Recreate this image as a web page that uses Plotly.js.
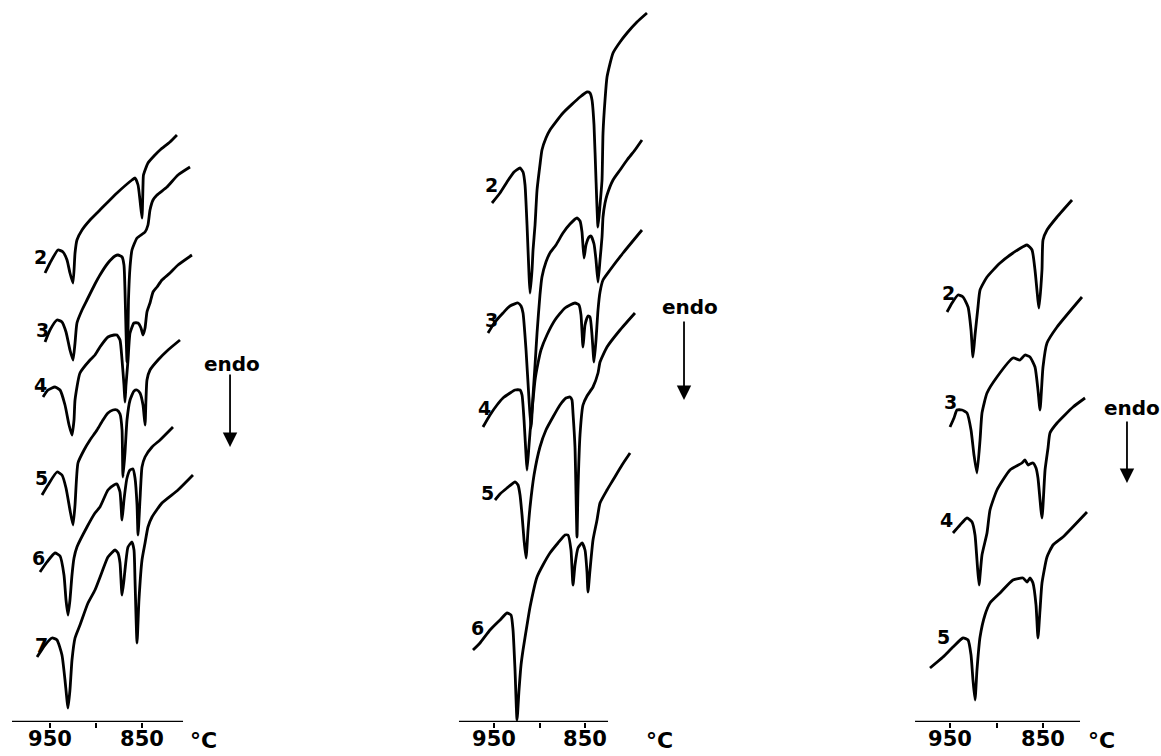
<!DOCTYPE html>
<html>
<head>
<meta charset="utf-8">
<script src="https://cdn.plot.ly/plotly-3.0.1.min.js"></script>
<style>
  html, body { margin: 0; padding: 0; background: #ffffff; }
  #chart { width: 1161px; height: 756px; }
</style>
</head>
<body>
<div id="chart"></div>
<script>
// ---------------- DATA (temperature in °C, DTA signal in arbitrary units) ----------------
// Panel A (left)
const A2_temp = [955.4,950,941.3,935.9,931.5,928.3,925.0,922.8,920.7,915.2,906.5,895.7,877.2,860.9,857.6,854.3,852.2,850.0,848.9,848.4,843.5,835.9,830.4,819.6,812.0];
const A2_sig  = [449,459,472,470,462,449,439,469,482,492,502,512,529,542,544,537,522,504,537,547,559,567,572,580,587];
const A3_temp = [955.4,950,942.4,937.0,932.6,928.3,925.0,922.8,920.7,915.2,909.8,901.1,895.7,887.0,879.3,876.1,871.7,869.6,868.5,867.4,866.3,865.2,864.7,863.0,860.9,855.4,846.7,843.5,841.3,838.0,833.7,822.8,810.9,797.8];
const A3_sig  = [380,392,402,400,390,372,362,379,399,412,422,438,447,459,466,467,465,457,432,392,360,392,422,455,472,484,490,497,512,522,527,535,547,555];
const A4_temp = [957.6,952.2,944.6,939.1,933.7,929.3,926.1,923.9,922.8,917.4,906.5,901.1,895.7,887.0,880.4,877.2,873.9,871.7,869.6,868.5,867.4,865.2,863.0,858.7,854.3,851.1,848.9,846.7,844.6,841.3,838.0,833.7,828.3,819.6,810.9,795.7];
const A4_sig  = [325,332,335,332,317,297,287,302,322,349,362,367,375,385,387,387,382,362,337,320,337,362,389,399,399,394,387,394,410,419,430,435,442,449,457,467];
const A5_temp = [958.7,952.2,942.4,937.0,932.6,928.3,925.0,922.8,919.6,913.0,906.5,898.9,892.4,887.0,881.5,877.2,873.9,871.7,870.7,868.5,866.3,863.0,858.7,855.4,852.2,848.9,846.7,845.7,844.6,841.3,832.6,821.7,808.7];
const A5_sig  = [227,237,250,247,234,212,197,217,259,272,282,292,302,309,312,312,308,292,245,269,302,322,331,332,329,317,297,322,342,352,362,372,382];
const A6_temp = [960.9,953.3,944.6,939.1,934.8,932.6,930.4,928.3,926.1,923.9,920.7,909.8,901.1,895.7,887.0,880.4,877.2,873.9,871.7,869.6,866.3,863.0,859.8,857.6,855.4,854.3,852.2,850.0,846.7,839.1,830.4,816.3];
const A6_sig  = [150,160,169,166,147,122,107,122,147,164,175,195,209,215,232,237,238,230,202,222,244,252,253,244,217,187,222,255,265,275,282,295];
const A7_temp = [964.1,955.4,947.8,942.4,937.0,933.7,930.4,928.3,926.1,922.8,917.4,908.7,901.1,893.5,887.0,879.3,876.1,873.9,871.7,869.6,868.5,865.2,860.9,858.7,857.6,855.4,853.3,850.0,846.7,843.5,839.1,828.3,810.9,794.6];
const A7_sig  = [65,77,84,82,67,42,14,32,62,84,97,119,132,150,165,172,169,159,127,142,152,175,180,172,142,79,122,162,179,195,205,219,232,247];

// Panel B (middle)
const B2_temp = [952.2,943.4,935.7,928.0,921.4,918.1,915.9,913.7,911.5,910.4,908.2,907.1,904.9,902.7,899.5,897.3,892.9,888.5,874.2,855.5,847.8,844.5,842.3,840.1,837.9,835.7,833.5,831.3,830.2,828.0,825.8,819.2,811.5,803.8,792.9,781.9];
const B2_sig  = [519,529,540,550,554,550,537,497,447,429,452,472,497,532,557,572,584,592,609,625,630,629,622,597,542,495,517,542,589,622,645,669,680,689,700,709];
const B3_temp = [956.6,948.9,940.1,932.4,923.6,920.3,918.1,914.8,911.5,909.3,907.1,904.9,902.7,899.5,897.3,892.9,888.5,881.9,874.2,866.5,858.8,855.5,853.3,851.1,848.9,845.6,843.4,840.1,837.9,835.7,833.5,831.3,830.2,828.0,825.8,819.2,811.5,803.8,795.1,787.4];
const B3_sig  = [389,400,409,416,419,416,409,372,322,294,327,357,389,427,445,460,469,477,489,498,504,501,490,464,477,485,486,478,462,440,462,485,505,519,527,542,552,562,572,582];
const B4_temp = [962.1,954.4,946.7,940.1,932.4,926.9,921.4,919.2,917.0,914.8,913.7,911.5,909.3,907.1,904.9,901.6,898.4,891.8,883.0,872.0,861.0,856.6,854.4,852.2,850.0,846.7,844.5,842.3,840.1,837.9,835.7,833.5,830.2,822.5,808.2,787.4];
const B4_sig  = [295,307,317,324,329,332,332,327,302,267,252,277,302,322,342,359,372,387,402,414,419,417,407,375,397,406,405,387,360,382,412,430,442,452,469,492];
const B5_temp = [948.9,943.4,935.7,926.9,923.6,921.4,919.2,917.0,914.8,912.6,910.4,906.0,899.5,892.9,885.2,877.5,870.9,866.5,864.3,863.2,861.0,858.8,857.7,855.5,852.2,847.8,841.2,835.7,833.5,825.8,811.5,795.1];
const B5_sig  = [222,228,234,240,237,227,207,182,164,192,215,247,275,292,305,317,324,325,322,309,275,185,232,287,317,326,335,349,360,375,392,409];
const B6_temp = [973.1,965.4,954.4,943.4,935.7,931.3,929.1,926.9,924.7,922.5,920.3,918.1,913.7,910.4,902.7,896.2,888.5,879.7,872.0,868.7,865.4,863.2,861.0,857.7,853.3,850.0,847.8,846.7,844.5,841.2,836.8,833.5,825.8,819.2,809.3,800.5];
const B6_sig  = [72,79,92,102,109,107,92,52,2,32,57,72,97,115,145,157,169,179,187,187,172,137,157,174,179,172,150,130,152,182,202,219,232,242,257,269];

// Panel C (right)
const C2_temp = [953.2,947.8,941.4,936.0,930.6,927.4,925.3,923.1,919.9,917.7,910.2,896.2,882.3,867.2,861.8,858.6,854.3,851.1,850.0,845.7,834.9,818.8];
const C2_sig  = [410,419,427,425,415,392,365,387,415,432,445,459,469,477,472,452,414,452,482,492,505,522];
const C3_temp = [950,945.7,942.5,937.1,931.7,927.4,924.2,921.0,917.7,915.6,910.2,899.5,882.3,874.7,869.4,864.0,858.6,855.4,853.2,850.0,845.7,834.9,808.1];
const C3_sig  = [295,304,312,312,309,292,267,249,282,309,329,345,364,362,367,365,355,332,312,355,379,395,425];
const C4_temp = [946.8,939.2,931.7,926.3,923.1,921.0,918.8,915.6,910.2,907.0,899.5,885.5,872.6,869.4,866.1,864.0,860.8,857.5,855.4,851.1,847.8,844.6,842.5,834.9,817.7,804.8];
const C4_sig  = [189,197,204,200,187,162,137,167,189,212,232,252,259,262,257,258,259,254,244,204,252,274,289,299,315,324];
const C5_temp = [971.5,957.5,946.8,936.0,930.6,927.4,925.3,923.1,921.0,917.7,912.4,907.0,896.2,882.3,871.5,867.2,864.0,860.8,857.5,855.4,853.2,851.1,845.7,839.2,828.5,802.7];
const C5_sig  = [54,65,75,84,82,67,42,22,52,85,107,119,129,142,144,140,144,139,117,84,112,139,165,177,185,210];

// Axis tick labels
const tickValues = [950, 900, 850];
const tickLabels = ['950', '', '850'];
const unitLabel = '°C';
const endoLabel = 'endo';

// ---------------- LAYOUT CONFIG ----------------
const W = 1161, H = 756;
const FONT = 'DejaVu Sans, sans-serif';
const AXIS_PX = 722;               // pixel row of the temperature axes
// panel geometry: plot-area pixel extent, pixel of 950 °C, pixels per °C, drawn axis-line extent (°C)
const panels = [
  { x: 'x',  px0: 0,   px1: 240,  px950: 50,  k: 0.92, lineFrom: 991.3, lineTo: 805.4, unitT: 783.7,
    endo: { textT: 752.2, textS: 358, arrowT: 754.3, tailS: 349, headS: 275 } },
  { x: 'x2', px0: 440, px1: 720,  px950: 494, k: 0.91, lineFrom: 988.5, lineTo: 824.7, unitT: 767.6,
    endo: { textT: 734.6, textS: 415, arrowT: 741.2, tailS: 402, headS: 322 } },
  { x: 'x3', px0: 900, px1: 1161, px950: 950, k: 0.93, lineFrom: 987.6, lineTo: 810.2, unitT: 786.6,
    endo: { textT: 754.3, textS: 314, arrowT: 759.7, tailS: 302, headS: 239 } }
];

const curves = [
  { p: 0, label: '2', T: A2_temp, S: A2_sig, off: [-5, -16] },
  { p: 0, label: '3', T: A3_temp, S: A3_sig, off: [-3, -12] },
  { p: 0, label: '4', T: A4_temp, S: A4_sig, off: [-3, -12] },
  { p: 0, label: '5', T: A5_temp, S: A5_sig, off: [-1, -17] },
  { p: 0, label: '6', T: A6_temp, S: A6_sig, off: [-1, -14] },
  { p: 0, label: '7', T: A7_temp, S: A7_sig, off: [4, -12] },
  { p: 1, label: '2', T: B2_temp, S: B2_sig, off: [-1, -18] },
  { p: 1, label: '3', T: B3_temp, S: B3_sig, off: [4, -13] },
  { p: 1, label: '4', T: B4_temp, S: B4_sig, off: [2, -19] },
  { p: 1, label: '5', T: B5_temp, S: B5_sig, off: [-8, -7] },
  { p: 1, label: '6', T: B6_temp, S: B6_sig, off: [5, -22] },
  { p: 2, label: '2', T: C2_temp, S: C2_sig, off: [1, -19] },
  { p: 2, label: '3', T: C3_temp, S: C3_sig, off: [0, -25] },
  { p: 2, label: '4', T: C4_temp, S: C4_sig, off: [-6, -13] },
  { p: 2, label: '5', T: C5_temp, S: C5_sig, off: [13, -31] }
];

const traces = curves.map(c => ({
  type: 'scatter', mode: 'lines',
  x: c.T, y: c.S,
  xaxis: panels[c.p].x, yaxis: 'y',
  line: { color: '#000000', width: 2.8, shape: 'spline', smoothing: 0.5 },
  hoverinfo: 'skip', showlegend: false
}));

const textFont = (size) => ({ family: FONT, size: size, color: '#000000', weight: 'bold' });

const layout = {
  width: W, height: H,
  margin: { l: 0, r: 0, t: 0, b: 0 },
  paper_bgcolor: '#ffffff', plot_bgcolor: 'rgba(0,0,0,0)',
  showlegend: false,
  font: { family: FONT, color: '#000000' },
  yaxis: { domain: [(H - AXIS_PX) / H, 1], range: [0, AXIS_PX], visible: false, fixedrange: true },
  shapes: [], annotations: []
};

panels.forEach((p, i) => {
  const key = i === 0 ? 'xaxis' : 'xaxis' + (i + 1);
  layout[key] = {
    domain: [p.px0 / W, p.px1 / W],
    range: [950 + (p.px950 - p.px0) / p.k, 950 - (p.px1 - p.px950) / p.k],
    anchor: 'y',
    showgrid: false, zeroline: false, showline: false,
    ticks: 'outside', ticklen: 5, tickwidth: 2, tickcolor: '#000000',
    tickvals: tickValues, ticktext: tickLabels,
    ticklabelstandoff: -7,
    tickfont: textFont(21),
    fixedrange: true
  };
  layout.shapes.push({
    type: 'line', xref: p.x, yref: 'y',
    x0: p.lineFrom, x1: p.lineTo, y0: 0, y1: 0,
    line: { color: '#000000', width: 2.5 }
  });
  layout.annotations.push({
    xref: p.x, yref: 'y', x: p.unitT, y: 0, yshift: -18,
    text: unitLabel, showarrow: false, xanchor: 'center', yanchor: 'middle',
    font: textFont(22)
  });
  layout.annotations.push({
    xref: p.x, yref: 'y', x: p.endo.textT, y: p.endo.textS,
    text: endoLabel, showarrow: false, xanchor: 'center', yanchor: 'middle',
    font: textFont(20)
  });
  layout.annotations.push({
    xref: p.x, yref: 'y', x: p.endo.arrowT, y: p.endo.headS,
    axref: p.x, ayref: 'y', ax: p.endo.arrowT, ay: p.endo.tailS,
    text: '', showarrow: true, arrowhead: 2, arrowsize: 1.6, arrowwidth: 1.8, arrowcolor: '#000000'
  });
});

curves.forEach(c => {
  layout.annotations.push({
    xref: panels[c.p].x, yref: 'y', x: c.T[0], y: c.S[0],
    xshift: c.off[0], yshift: -c.off[1],
    text: c.label, showarrow: false, xanchor: 'center', yanchor: 'middle',
    font: textFont(19)
  });
});

Plotly.newPlot('chart', traces, layout, { staticPlot: true, displayModeBar: false });
</script>
</body>
</html>
